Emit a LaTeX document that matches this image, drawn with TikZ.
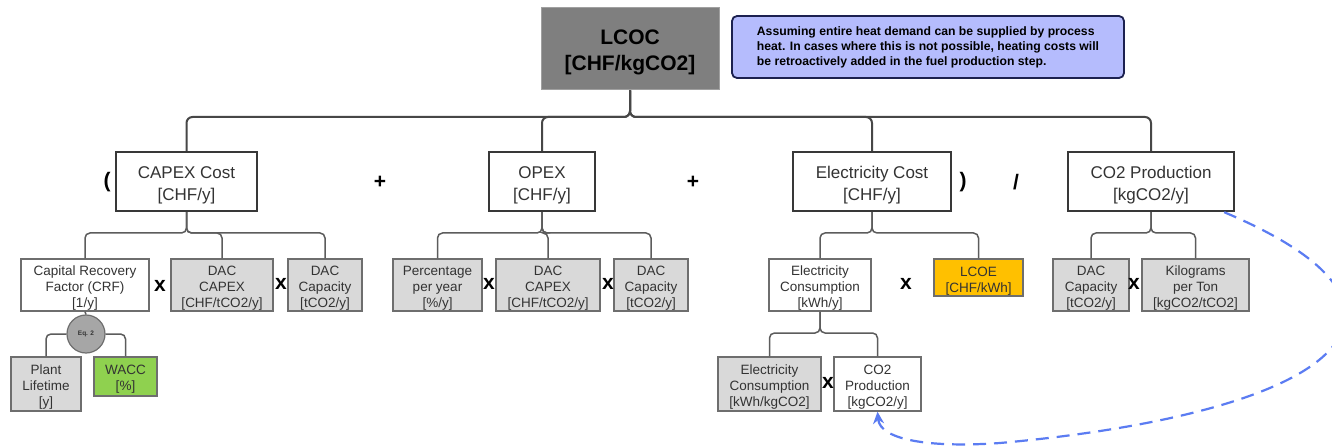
\documentclass[tikz,border=0pt]{standalone}
\usepackage{fontspec}
\setmainfont{Liberation Sans}
\usetikzlibrary{arrows.meta,calc}

\definecolor{lvlline}{HTML}{383838}
\definecolor{linkmaincol}{HTML}{474747}
\definecolor{linksubcol}{HTML}{5C5C5C}
\definecolor{boxtext}{HTML}{333333}
\definecolor{greyfill}{HTML}{D9D9D9}
\definecolor{smallline}{HTML}{6E6E6E}
\definecolor{notefill}{HTML}{B5BCFD}
\definecolor{noteline}{HTML}{1C2150}
\definecolor{lcocfill}{HTML}{7F7F7F}
\definecolor{lcocline}{HTML}{A0A0A0}
\definecolor{waccfill}{HTML}{8FD14F}
\definecolor{lcoefill}{HTML}{FFC000}
\definecolor{loopblue}{HTML}{5B7CF2}
\definecolor{eqfill}{HTML}{A6A6A6}

% one elbow connector from a parent box down to a child box via a bus level
\newcommand\treelink[4]{\draw[#1] (#2.south) -- (#2.south |- #4) -- (#3.north |- #4) -- (#3.north);}

\begin{document}
\begin{tikzpicture}[x=1pt,y=-1pt,
  mainbox/.style={draw=lvlline, line width=2.4, fill=white, inner sep=0, align=center,
    text=boxtext, text height=41, font=\fontsize{17}{22}\selectfont},
  subbox/.style={draw=smallline, line width=1.5, fill=white, inner sep=0, align=center,
    text=boxtext, text height=48, font=\fontsize{13.5}{16}\selectfont},
  greybox/.style={subbox, fill=greyfill},
  opsym/.style={inner sep=0, font=\fontsize{21}{24}\bfseries\selectfont},
  linkmain/.style={draw=linkmaincol, line width=2, rounded corners=6},
  linksub/.style={draw=linksubcol, line width=1.5, rounded corners=5},
]
\useasboundingbox (0,0) rectangle (1332,446);
\fill[white] (0,0) rectangle (1332,446);

% bus levels
\coordinate (bus0) at (0,117);
\coordinate (bus1) at (0,233);
\coordinate (bus2) at (0,333);

% top result and note
\node[draw=lcocline, line width=1, fill=lcocfill, minimum width=178, minimum height=82, inner sep=0,
  align=center, text height=47, font=\fontsize{21}{26}\bfseries\selectfont] (lcoc) at (630,49) {LCOC\\{}[CHF/kgCO2]};
\node[draw=noteline, line width=1.8, fill=notefill, rounded corners=5, minimum width=392, minimum height=62,
  inner sep=0, align=left, font=\fontsize{12.2}{15}\bfseries\selectfont] (note) at (928,47)
  {Assuming entire heat demand can be supplied by process\\heat. In cases where this is not possible, heating costs will\\be retroactively added in the fuel production step.};

% first level
\node[mainbox, minimum width=141, minimum height=59] (capex) at (186.5,181.5) {CAPEX Cost\\{}[CHF/y]};
\node[mainbox, minimum width=106, minimum height=59] (opex) at (542,181.5) {OPEX\\{}[CHF/y]};
\node[mainbox, minimum width=158, minimum height=59] (elec) at (872,181.5) {Electricity Cost\\{}[CHF/y]};
\node[mainbox, minimum width=166, minimum height=59] (co2p) at (1151,181.5) {CO2 Production\\{}[kgCO2/y]};

\node[opsym] (lpar) at (107,182) {(};
\node[opsym] (plus1) at (380,182) {+};
\node[opsym] (plus2) at (693,182) {+};
\node[opsym] (rpar) at (963,182) {)};
\node[opsym] (slash) at (1016,182) {/};

% CAPEX branch
\node[subbox, minimum width=128, minimum height=52] (crf) at (85,285) {Capital Recovery\\Factor (CRF)\\{}[1/y]};
\node[greybox, minimum width=102, minimum height=52] (capexa) at (222,285) {DAC\\CAPEX\\{}[CHF/tCO2/y]};
\node[greybox, minimum width=74, minimum height=52] (capa) at (325,285) {DAC\\Capacity\\{}[tCO2/y]};
\node[opsym] (xa) at (160,286) {x};
\node[opsym] (xb) at (281,284) {x};

\node[circle, draw=smallline, line width=1.2, fill=eqfill, minimum size=38, inner sep=0,
  text=boxtext, font=\fontsize{6.5}{7}\bfseries\selectfont] (eq) at (86,334) {Eq. 2};
\node[greybox, minimum width=70, minimum height=54] (life) at (46,384) {Plant\\Lifetime\\{}[y]};
\node[subbox, fill=waccfill, text height=30, minimum width=63, minimum height=39] (wacc) at (125.5,376.5) {WACC\\{}[\%]};

% OPEX branch
\node[greybox, minimum width=89, minimum height=52] (pct) at (437.5,285) {Percentage\\per year\\{}[\%/y]};
\node[greybox, minimum width=104, minimum height=52] (capexb) at (548,285) {DAC\\CAPEX\\{}[CHF/tCO2/y]};
\node[greybox, minimum width=74, minimum height=52] (capb) at (651,285) {DAC\\Capacity\\{}[tCO2/y]};
\node[opsym] (xc) at (489,284) {x};
\node[opsym] (xd) at (608,284) {x};

% electricity branch
\node[subbox, minimum width=102, minimum height=52] (elcons) at (820,285) {Electricity\\Consumption\\{}[kWh/y]};
\node[subbox, fill=lcoefill, text height=32, minimum width=89, minimum height=37] (lcoe) at (978.5,277.5) {LCOE\\{}[CHF/kWh]};
\node[opsym] (xe) at (906,284) {x};
\node[greybox, minimum width=103, minimum height=54] (elspec) at (769.5,384) {Electricity\\Consumption\\{}[kWh/kgCO2]};
\node[subbox, minimum width=87, minimum height=54] (co2s) at (877.5,384) {CO2\\Production\\{}[kgCO2/y]};
\node[opsym] (xf) at (828,383) {x};

% CO2 production branch
\node[greybox, minimum width=76, minimum height=52] (capc) at (1091,285) {DAC\\Capacity\\{}[tCO2/y]};
\node[greybox, minimum width=107, minimum height=52] (kgt) at (1195.5,285) {Kilograms\\per Ton\\{}[kgCO2/tCO2]};
\node[opsym] (xg) at (1134,284) {x};

% connectors, first level
\treelink{linkmain}{lcoc}{capex}{bus0}
\treelink{linkmain}{lcoc}{opex}{bus0}
\treelink{linkmain}{lcoc}{elec}{bus0}
\treelink{linkmain}{lcoc}{co2p}{bus0}

% connectors, second level
\treelink{linksub}{capex}{crf}{bus1}
\treelink{linksub}{capex}{capexa}{bus1}
\treelink{linksub}{capex}{capa}{bus1}
\treelink{linksub}{opex}{pct}{bus1}
\treelink{linksub}{opex}{capexb}{bus1}
\treelink{linksub}{opex}{capb}{bus1}
\treelink{linksub}{elec}{elcons}{bus1}
\treelink{linksub}{elec}{lcoe}{bus1}
\treelink{linksub}{co2p}{capc}{bus1}
\treelink{linksub}{co2p}{kgt}{bus1}
\treelink{linksub}{elcons}{elspec}{bus2}
\treelink{linksub}{elcons}{co2s}{bus2}

% CRF formula inputs
\draw[linksub] (crf.south) -- (eq.north);
\draw[linksub] (eq.west) -- (eq.west -| life.north) -- (life.north);
\draw[linksub] (eq.east) -- (eq.east -| wacc.north) -- (wacc.north);

% feedback loop of the CO2 production
\coordinate (loopstart) at ($(co2p.south east)+(-11,0)$);
\draw[loopblue, line width=2.2, dash pattern=on 13pt off 8pt, -{Stealth[length=12pt,width=11pt]}]
  (loopstart) .. controls (1290,240) and (1345,275) .. (1345,315)
  .. controls (1345,380) and (1200,425) .. (1000,443)
  .. controls (930,448) and (880,440) .. (co2s.south);
\end{tikzpicture}
\end{document}
